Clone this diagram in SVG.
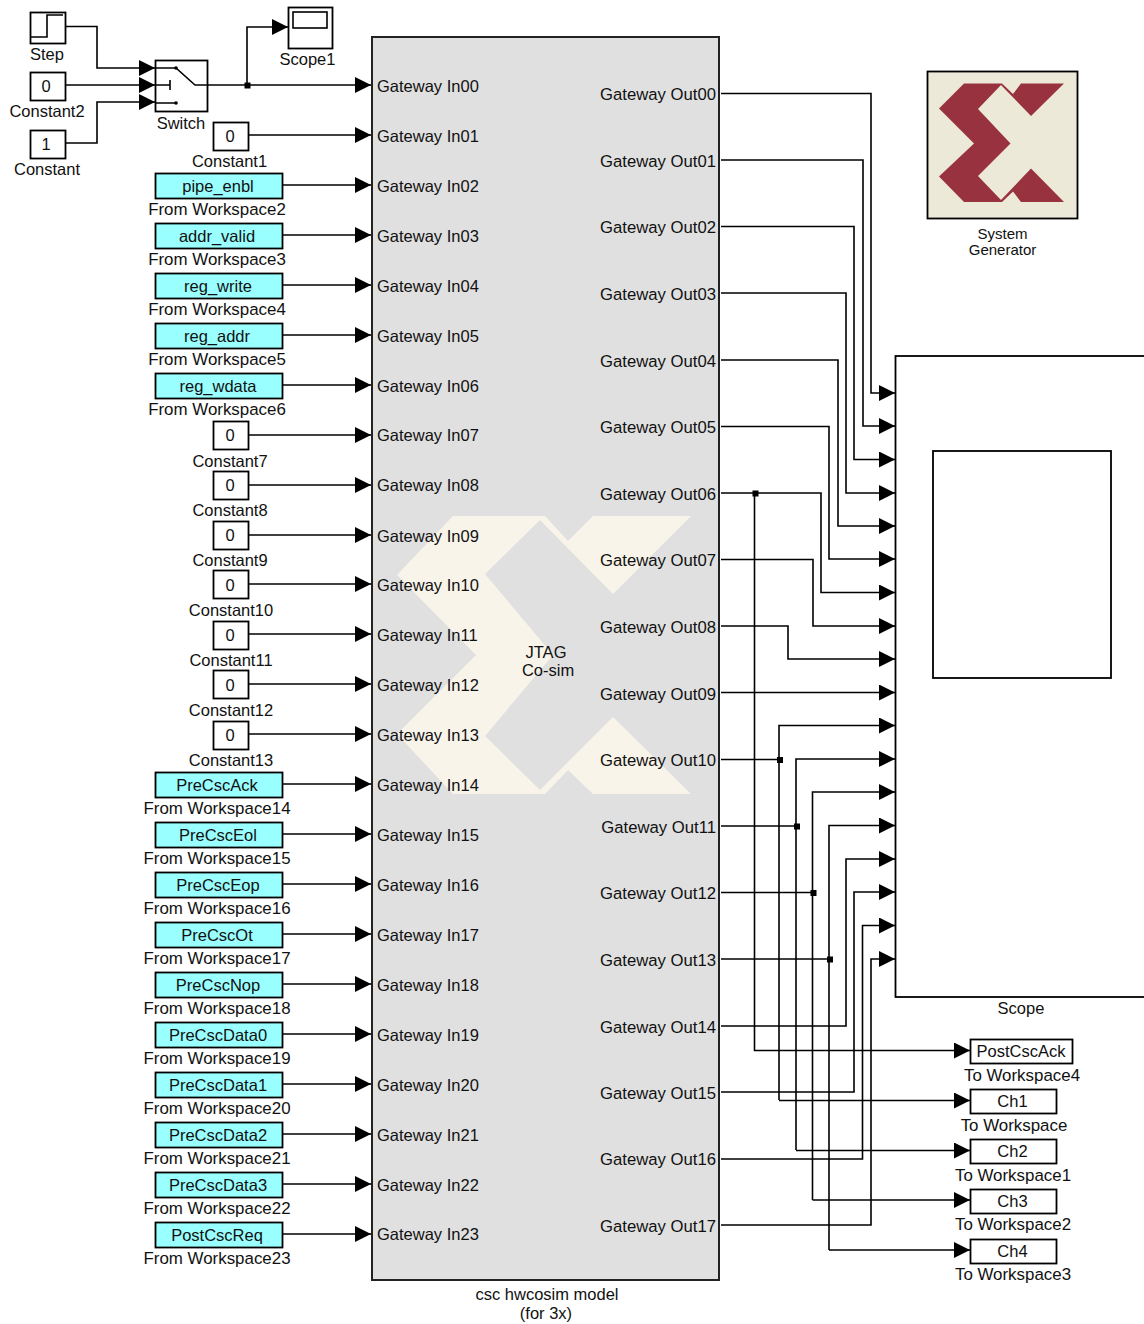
<svg xmlns="http://www.w3.org/2000/svg" width="1144" height="1324" viewBox="0 0 1144 1324">
<style>
text{font-family:"Liberation Sans",Arial,sans-serif;font-size:16.5px;fill:#111}
.m{text-anchor:middle}.e{text-anchor:end;font-size:16.7px}.s{font-size:15px}.l{font-size:16.9px}
.b{fill:#fff;stroke:#000;stroke-width:1.8;transform:translate(.5px,.5px)}
.c{fill:#99ffff;stroke:#000;stroke-width:1.8;transform:translate(.5px,.5px)}
.w{fill:none;stroke:#000;stroke-width:1.6}
.a{fill:none;stroke:#000;stroke-width:1.6;marker-end:url(#h)}
.j{fill:#000}
</style>
<defs>
<marker id="h" markerUnits="userSpaceOnUse" markerWidth="16" markerHeight="16" viewBox="0 0 16 16" refX="16" refY="8" orient="auto"><path d="M0 0L16 8L0 16Z" fill="#000"/></marker>
</defs>
<rect width="1144" height="1324" fill="#fff"/>

<g id="main">
<rect x="372" y="37" width="347" height="1243" fill="#e0e0e0" stroke="#222" stroke-width="2"/>
<polygon fill="#f9f4ea" points="453,516 545,516 568,541 593,516 691,516 613,594 540,520 485,574 553,655 485,736 540,790 613,717 691,794 593,794 568,770 545,794 453,794 397,734 476,655 397,575"/>
<text class="m" x="546" y="658">JTAG</text><text class="m" x="548" y="676">Co-sim</text>
<text class="m" x="547" y="1300">csc hwcosim model</text><text class="m" x="546" y="1319">(for 3x)</text>
<text x="377" y="92">Gateway In00</text><text x="377" y="142">Gateway In01</text><text x="377" y="192">Gateway In02</text><text x="377" y="242">Gateway In03</text><text x="377" y="292">Gateway In04</text><text x="377" y="342">Gateway In05</text><text x="377" y="392">Gateway In06</text><text x="377" y="441">Gateway In07</text><text x="377" y="491">Gateway In08</text><text x="377" y="542">Gateway In09</text><text x="377" y="591">Gateway In10</text><text x="377" y="641">Gateway In11</text><text x="377" y="691">Gateway In12</text><text x="377" y="741">Gateway In13</text><text x="377" y="791">Gateway In14</text><text x="377" y="841">Gateway In15</text><text x="377" y="891">Gateway In16</text><text x="377" y="941">Gateway In17</text><text x="377" y="991">Gateway In18</text><text x="377" y="1041">Gateway In19</text><text x="377" y="1091">Gateway In20</text><text x="377" y="1141">Gateway In21</text><text x="377" y="1191">Gateway In22</text><text x="377" y="1240">Gateway In23</text>
<text class="e" x="716" y="100">Gateway Out00</text><text class="e" x="716" y="167">Gateway Out01</text><text class="e" x="716" y="233">Gateway Out02</text><text class="e" x="716" y="300">Gateway Out03</text><text class="e" x="716" y="367">Gateway Out04</text><text class="e" x="716" y="433">Gateway Out05</text><text class="e" x="716" y="500">Gateway Out06</text><text class="e" x="716" y="566">Gateway Out07</text><text class="e" x="716" y="633">Gateway Out08</text><text class="e" x="716" y="700">Gateway Out09</text><text class="e" x="716" y="766">Gateway Out10</text><text class="e" x="716" y="833">Gateway Out11</text><text class="e" x="716" y="899">Gateway Out12</text><text class="e" x="716" y="966">Gateway Out13</text><text class="e" x="716" y="1033">Gateway Out14</text><text class="e" x="716" y="1099">Gateway Out15</text><text class="e" x="716" y="1165">Gateway Out16</text><text class="e" x="716" y="1232">Gateway Out17</text>
</g>

<g id="step"><rect class="b" x="30" y="12" width="35" height="31"/><path class="w" d="M31 37H47V15H63"/><text class="m" x="47" y="60">Step</text></g>
<g id="constant2"><rect class="b" x="30" y="72" width="35" height="28"/><text class="m" x="46" y="92">0</text><text class="m" x="47" y="117">Constant2</text></g>
<g id="constant"><rect class="b" x="30" y="130" width="35" height="28"/><text class="m" x="46" y="150">1</text><text class="m" x="47" y="175">Constant</text></g>
<g id="switch"><rect class="b" x="155" y="60" width="52" height="51"/><path class="w" d="M155 68H176L195 85H207M155 85H170M170 80V90M155 103H176"/><circle class="j" cx="176" cy="68" r="1.8"/><circle class="j" cx="176" cy="103" r="1.8"/><text class="m" x="181" y="129">Switch</text></g>
<g id="scope1"><rect class="b" x="288" y="7" width="44" height="41"/><rect x="293" y="12" width="34" height="16" fill="#fff" stroke="#000" stroke-width="1.6"/><text class="m" x="307.500" y="65">Scope1</text></g>
<g id="constant1"><rect class="b" x="213" y="122" width="35" height="28"/><text class="m" x="230" y="142">0</text><text class="m" x="229.500" y="167">Constant1</text></g>

<g id="fw2"><rect class="c" x="155" y="173" width="127" height="25"/><text class="m" x="218" y="192">pipe_enbl</text><text class="m l" x="217" y="215">From Workspace2</text></g>
<g id="fw3"><rect class="c" x="155" y="223" width="127" height="25"/><text class="m" x="217" y="242">addr_valid</text><text class="m l" x="217" y="265">From Workspace3</text></g>
<g id="fw4"><rect class="c" x="155" y="273" width="127" height="25"/><text class="m" x="218" y="292">reg_write</text><text class="m l" x="217" y="315">From Workspace4</text></g>
<g id="fw5"><rect class="c" x="155" y="323" width="127" height="25"/><text class="m" x="217" y="342">reg_addr</text><text class="m l" x="217" y="365">From Workspace5</text></g>
<g id="fw6"><rect class="c" x="155" y="373" width="127" height="25"/><text class="m" x="218" y="392">reg_wdata</text><text class="m l" x="217" y="415">From Workspace6</text></g>
<g id="constant7"><rect class="b" x="213" y="421" width="35" height="28"/><text class="m" x="230" y="441">0</text><text class="m" x="230" y="467">Constant7</text></g>
<g id="constant8"><rect class="b" x="213" y="471" width="35" height="28"/><text class="m" x="230" y="491">0</text><text class="m" x="230" y="516">Constant8</text></g>
<g id="constant9"><rect class="b" x="213" y="521" width="35" height="28"/><text class="m" x="230" y="541">0</text><text class="m" x="230" y="566">Constant9</text></g>
<g id="constant10"><rect class="b" x="213" y="570" width="35" height="28"/><text class="m" x="230" y="591">0</text><text class="m" x="231" y="616">Constant10</text></g>
<g id="constant11"><rect class="b" x="213" y="621" width="35" height="28"/><text class="m" x="230" y="641">0</text><text class="m" x="231" y="666">Constant11</text></g>
<g id="constant12"><rect class="b" x="213" y="670" width="35" height="28"/><text class="m" x="230" y="691">0</text><text class="m" x="231" y="716">Constant12</text></g>
<g id="constant13"><rect class="b" x="213" y="721" width="35" height="28"/><text class="m" x="230" y="741">0</text><text class="m" x="231" y="766">Constant13</text></g>
<g id="fw14"><rect class="c" x="155" y="772" width="127" height="25"/><text class="m" x="217" y="791">PreCscAck</text><text class="m l" x="217" y="814">From Workspace14</text></g>
<g id="fw15"><rect class="c" x="155" y="822" width="127" height="25"/><text class="m" x="218" y="841">PreCscEol</text><text class="m l" x="217" y="864">From Workspace15</text></g>
<g id="fw16"><rect class="c" x="155" y="872" width="127" height="25"/><text class="m" x="218" y="891">PreCscEop</text><text class="m l" x="217" y="914">From Workspace16</text></g>
<g id="fw17"><rect class="c" x="155" y="922" width="127" height="25"/><text class="m" x="217" y="941">PreCscOt</text><text class="m l" x="217" y="964">From Workspace17</text></g>
<g id="fw18"><rect class="c" x="155" y="972" width="127" height="25"/><text class="m" x="218" y="991">PreCscNop</text><text class="m l" x="217" y="1014">From Workspace18</text></g>
<g id="fw19"><rect class="c" x="155" y="1022" width="127" height="25"/><text class="m" x="218" y="1041">PreCscData0</text><text class="m l" x="217" y="1064">From Workspace19</text></g>
<g id="fw20"><rect class="c" x="155" y="1072" width="127" height="25"/><text class="m" x="218" y="1091">PreCscData1</text><text class="m l" x="217" y="1114">From Workspace20</text></g>
<g id="fw21"><rect class="c" x="155" y="1122" width="127" height="25"/><text class="m" x="218" y="1141">PreCscData2</text><text class="m l" x="217" y="1164">From Workspace21</text></g>
<g id="fw22"><rect class="c" x="155" y="1172" width="127" height="25"/><text class="m" x="218" y="1191">PreCscData3</text><text class="m l" x="217" y="1214">From Workspace22</text></g>
<g id="fw23"><rect class="c" x="155" y="1222" width="127" height="25"/><text class="m" x="217" y="1241">PostCscReq</text><text class="m l" x="217" y="1264">From Workspace23</text></g>

<g id="sysgen"><rect x="927.500" y="71.500" width="150" height="147" fill="#ece9d8" stroke="#000" stroke-width="1.8"/><polygon fill="#99323f" points="964,83.500 1002,83.500 1013,94 1021,83.500 1064,83.500 1031,116 1001,85 978,109 1010.500,143.500 978,176 1001,200 1031,168.500 1064,202 1021,202 1013,191.500 1002,202 964,202 939,176.500 974,143.500 939,108.500"/><text class="m s" x="1002.500" y="239">System</text><text class="m s" x="1002.500" y="255">Generator</text></g>

<g id="scope"><rect x="895.500" y="356" width="300" height="641" fill="#fff" stroke="#000" stroke-width="1.8"/><rect x="933" y="451" width="178" height="227" fill="#fff" stroke="#000" stroke-width="1.8"/><text class="m" x="1021" y="1014">Scope</text></g>

<g id="tw4"><rect class="b" x="970" y="1039" width="102" height="24"/><text class="m" x="1021" y="1057">PostCscAck</text><text class="m l" x="1022" y="1081">To Workspace4</text></g>
<g id="tw"><rect class="b" x="970" y="1089" width="86" height="24"/><text class="m" x="1012.500" y="1107">Ch1</text><text class="m l" x="1014" y="1131">To Workspace</text></g>
<g id="tw1"><rect class="b" x="970" y="1139" width="86" height="24"/><text class="m" x="1012.500" y="1157">Ch2</text><text class="m l" x="1013" y="1181">To Workspace1</text></g>
<g id="tw2"><rect class="b" x="970" y="1189" width="86" height="24"/><text class="m" x="1012.500" y="1207">Ch3</text><text class="m l" x="1013" y="1230">To Workspace2</text></g>
<g id="tw3"><rect class="b" x="970" y="1239" width="86" height="24"/><text class="m" x="1012.500" y="1257">Ch4</text><text class="m l" x="1013" y="1280">To Workspace3</text></g>

<g id="connectors">
<path class="a" d="M65 26.500H97V68H155"/><path class="a" d="M65 85H155"/><path class="a" d="M65 143H97V102H155"/>
<path class="a" d="M207 85H371"/><path class="a" d="M247 85V27H288"/><rect class="j" x="244.500" y="82.500" width="6" height="6"/>
<path class="a" d="M248 135H371"/>
<path class="a" d="M282 185H371"/><path class="a" d="M282 235H371"/><path class="a" d="M282 285H371"/><path class="a" d="M282 335H371"/><path class="a" d="M282 385H371"/>
<path class="a" d="M248 435H371"/><path class="a" d="M248 485H371"/><path class="a" d="M248 535H371"/><path class="a" d="M248 584H371"/><path class="a" d="M248 634H371"/><path class="a" d="M248 684H371"/><path class="a" d="M248 734H371"/>
<path class="a" d="M282 784H371"/><path class="a" d="M282 834H371"/><path class="a" d="M282 884H371"/><path class="a" d="M282 934H371"/><path class="a" d="M282 984H371"/><path class="a" d="M282 1034H371"/><path class="a" d="M282 1084H371"/><path class="a" d="M282 1134H371"/><path class="a" d="M282 1184H371"/><path class="a" d="M282 1234H371"/>

<path class="a" d="M721 93.500H871V393H895"/>
<path class="a" d="M721 160H863V426H895"/>
<path class="a" d="M721 226.500H854V459.500H895"/>
<path class="a" d="M721 293H846V493H895"/>
<path class="a" d="M721 360H838V526H895"/>
<path class="a" d="M721 426.500H829V559H895"/>
<path class="a" d="M721 493H821V592.500H895"/>
<path class="a" d="M721 559.500H813V626H895"/>
<path class="a" d="M721 626H788V659H895"/>
<path class="a" d="M721 692.500H895"/>
<path class="w" d="M721 759.500H780"/>
<path class="w" d="M721 826H797"/>
<path class="w" d="M721 892.500H813"/>
<path class="w" d="M721 959H830"/>
<path class="a" d="M779 1100V725.500H895"/>
<path class="a" d="M796 1150V759H895"/>
<path class="a" d="M812.500 1200V792H895"/>
<path class="a" d="M829 1250V825.500H895"/>
<path class="a" d="M721 1026H846V859H895"/>
<path class="a" d="M721 1092H854V892H895"/>
<path class="a" d="M721 1159H862.500V925.500H895"/>
<path class="a" d="M721 1225H871V959H895"/>
<path class="a" d="M754.500 493V1050.500H970"/>
<path class="a" d="M779 1100.500H970"/>
<path class="a" d="M796 1150.500H970"/>
<path class="a" d="M812.500 1200H970"/>
<path class="a" d="M829 1250H970"/>
<rect class="j" x="752.500" y="490.500" width="6" height="6"/>
<rect class="j" x="777" y="757" width="6" height="6"/>
<rect class="j" x="794" y="823.500" width="6" height="6"/>
<rect class="j" x="810.500" y="890" width="6" height="6"/>
<rect class="j" x="827" y="956.500" width="6" height="6"/>
</g>
</svg>
